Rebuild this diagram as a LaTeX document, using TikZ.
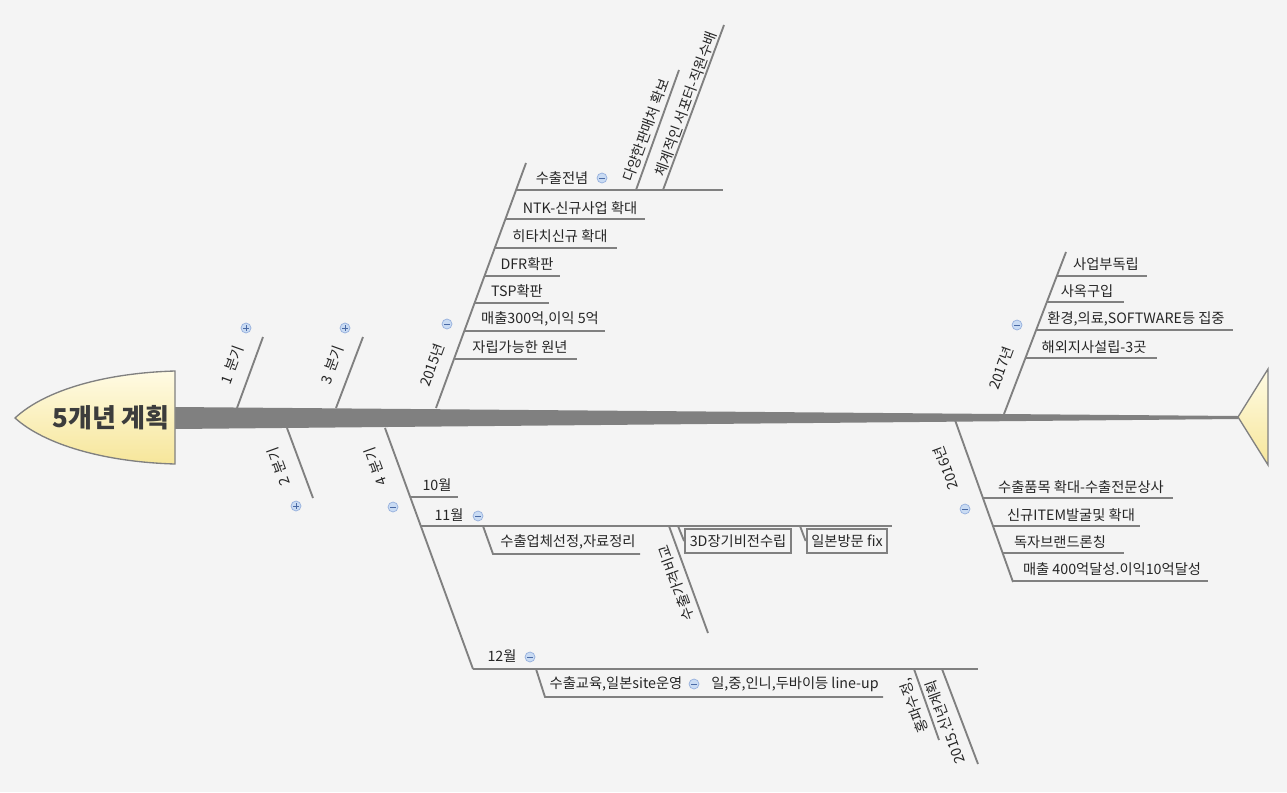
\documentclass[tikz,border=0pt]{standalone}
\usepackage{fontspec}
\setmainfont{Noto Sans CJK KR}

\definecolor{bgcol}{HTML}{F4F4F4}
\definecolor{bonecol}{HTML}{808080}
\definecolor{txtcol}{HTML}{262626}
\definecolor{headtxt}{HTML}{3C3C3C}
\definecolor{headtop}{HTML}{FFFBE4}
\definecolor{headbot}{HTML}{F6E69A}
\definecolor{btnfill}{HTML}{C9DBF3}
\definecolor{btnedge}{HTML}{93AEDC}
\definecolor{btnsign}{HTML}{4A6AA5}

\tikzset{
  bone/.style={draw=bonecol, line width=1.4pt},
  lbl/.style={font=\fontsize{10.7}{12}\selectfont, text=txtcol, inner sep=1pt},
  uplbl/.style={lbl, rotate=70},
  dnlbl/.style={lbl, rotate=110},
  boxed/.style={lbl, draw=bonecol, line width=1.5pt, minimum height=18pt, inner xsep=3.5pt},
  btn/.style={circle, draw=btnedge, fill=btnfill, line width=0.5pt, minimum size=7.5pt, inner sep=0pt},
  plusbtn/.style={btn, path picture={
    \draw[btnsign, line width=0.6pt]
      ([xshift=-2pt]path picture bounding box.center) -- ([xshift=2pt]path picture bounding box.center)
      ([yshift=-2pt]path picture bounding box.center) -- ([yshift=2pt]path picture bounding box.center);}},
  minusbtn/.style={btn, path picture={
    \draw[btnsign, line width=0.6pt]
      ([xshift=-2pt]path picture bounding box.center) -- ([xshift=2pt]path picture bounding box.center);}},
  fishend/.style={draw=bonecol, line width=1pt, top color=headtop, bottom color=headbot}
}

\begin{document}
\begin{tikzpicture}[x=0.75pt, y=-0.75pt]

% background and frame
\fill[bgcol] (0,0) rectangle (1287,792);
\useasboundingbox (0,0) rectangle (1287,792);

% spine, head and tail
\fill[bonecol] (175,407) -- (1238,416) -- (1238,419) -- (175,429) -- cycle;
\path[fishend] (175,371) .. controls (105,373) and (45,390) .. (15,418)
  .. controls (45,445) and (105,462) .. (175,464) -- cycle;
\node[font=\fontsize{19.5}{22}\selectfont\bfseries, text=headtxt] (title) at (111,418) {5개년 계획};
\path[fishend] (1238,417) -- (1268,369) -- (1268,465) -- cycle;

% 1 분기
\coordinate (q1s) at (237,408);
\coordinate (q1e) at (263,337);
\draw[bone] (q1s) -- (q1e);
\node[uplbl] (q1) at (232,365) {1 \,분기};
\node[plusbtn] (q1b) at (246,328) {};

% 3 분기
\coordinate (q3s) at (336,408);
\coordinate (q3e) at (363,337);
\draw[bone] (q3s) -- (q3e);
\node[uplbl] (q3) at (332,365) {3 \,분기};
\node[plusbtn] (q3b) at (345,328) {};

% 2 분기
\coordinate (q2s) at (287,428);
\coordinate (q2e) at (313,498);
\draw[bone] (q2s) -- (q2e);
\node[dnlbl] (q2) at (279,467) {2 \,분기};
\node[plusbtn] (q2b) at (296,506) {};

% 2015년
\coordinate (y15s) at (436,408);
\coordinate (y15e) at (526,163);
\draw[bone] (y15s) -- (y15e);
\node[uplbl] (y15) at (432,365) {2015년};
\node[minusbtn] (y15b) at (447,324) {};

\coordinate (exa) at (517,190);
\coordinate (exb) at (723,190);
\draw[bone] (exa) -- (exb);
\node[lbl] (ex) at (562,178) {수출전념};
\node[minusbtn] (exbtn) at (602,178) {};

\coordinate (ex1s) at (636,190);
\coordinate (ex1e) at (679,70);
\draw[bone] (ex1s) -- (ex1e);
\node[uplbl] (ex1) at (646,130) {다양한판매처 확보};
\coordinate (ex2s) at (663,190);
\coordinate (ex2e) at (724,25);
\draw[bone] (ex2s) -- (ex2e);
\node[uplbl] (ex2) at (686,104) {체계적인 서포터-직원수배};

\coordinate (ntka) at (505.5,219);
\coordinate (ntkb) at (645,219);
\draw[bone] (ntka) -- (ntkb);
\node[lbl] (ntk) at (580,208) {NTK-신규사업 확대};

\coordinate (hita) at (495,248);
\coordinate (hitb) at (617,248);
\draw[bone] (hita) -- (hitb);
\node[lbl] (hit) at (560,236) {히타치신규 확대};

\coordinate (dfra) at (485,276);
\coordinate (dfrb) at (560,276);
\draw[bone] (dfra) -- (dfrb);
\node[lbl] (dfr) at (527,264) {DFR확판};

\coordinate (tspa) at (475,303);
\coordinate (tspb) at (549,303);
\draw[bone] (tspa) -- (tspb);
\node[lbl] (tsp) at (517,291) {TSP확판};

\coordinate (s300a) at (465,331);
\coordinate (s300b) at (605,331);
\draw[bone] (s300a) -- (s300b);
\node[lbl] (s300) at (540,319) {매출300억,이익 5억};

\coordinate (inda) at (454.5,359);
\coordinate (indb) at (577,359);
\draw[bone] (inda) -- (indb);
\node[lbl] (ind) at (520,347) {자립가능한 원년};

% 4 분기
\coordinate (q4s) at (385,428);
\coordinate (q4e) at (473,669);
\draw[bone] (q4s) -- (q4e);
\node[dnlbl] (q4) at (376,467) {4 \,분기};
\node[minusbtn] (q4b) at (393,507) {};

\coordinate (m10a) at (410,497);
\coordinate (m10b) at (458,497);
\draw[bone] (m10a) -- (m10b);
\node[lbl] (m10) at (437,485) {10월};

\coordinate (m11a) at (420.5,526);
\coordinate (m11b) at (892,526);
\draw[bone] (m11a) -- (m11b);
\node[lbl] (m11) at (449,515) {11월};
\node[minusbtn] (m11btn) at (478,516) {};

\coordinate (selk) at (483,526);
\coordinate (sela) at (493,554);
\coordinate (selb) at (640,554);
\draw[bone] (selk) -- (sela) -- (selb);
\node[lbl] (sel) at (568,542) {수출업체선정,자료정리};

\coordinate (cmps) at (669,526);
\coordinate (cmpe) at (708,633);
\draw[bone] (cmps) -- (cmpe);
\node[dnlbl] (cmp) at (676,583) {수출가격비교};

\node[boxed] (m3d) at (738,541) {3D장기비전수립};
\node[boxed] (mjp) at (847,541) {일본방문 fix};
\coordinate (m3dk) at (678,526);
\coordinate (mjpk) at (800,526);
\draw[bone] (m3dk) -- (m3d.west);
\draw[bone] (mjpk) -- (mjp.west);

\coordinate (m12b) at (978,669);
\draw[bone] (q4e) -- (m12b);
\node[lbl] (m12) at (502,656) {12월};
\node[minusbtn] (m12btn) at (530,657) {};

\coordinate (edk) at (536,669);
\coordinate (eda) at (545,697);
\coordinate (edb) at (883,697);
\draw[bone] (edk) -- (eda) -- (edb);
\node[lbl] (ed) at (616,684) {수출교육,일본site운영};
\node[minusbtn] (edbtn) at (694,684) {};
\node[lbl] (lineup) at (795,684) {일,중,인니,두바이등 line-up};

\coordinate (hps) at (914,669);
\coordinate (hpe) at (939,740);
\draw[bone] (hps) -- (hpe);
\node[dnlbl] (hp) at (914,706) {홍파수정,};

\coordinate (nys) at (942,669);
\coordinate (nye) at (978,764);
\draw[bone] (nys) -- (nye);
\node[dnlbl] (ny) at (945,722) {2015.신년계획};

% 2016년
\coordinate (y16s) at (955,420);
\coordinate (y16e) at (1013,582);
\draw[bone] (y16s) -- (y16e);
\node[dnlbl] (y16) at (946,468) {2016년};
\node[minusbtn] (y16b) at (965,509) {};

\coordinate (expa) at (983,498);
\coordinate (expb) at (1173,498);
\draw[bone] (expa) -- (expb);
\node[lbl] (exp) at (1081,487) {수출품목 확대-수출전문상사};

\coordinate (itma) at (992.5,526);
\coordinate (itmb) at (1140,526);
\draw[bone] (itma) -- (itmb);
\node[lbl] (itm) at (1071,515) {신규ITEM발굴및 확대};

\coordinate (brda) at (1002,553);
\coordinate (brdb) at (1124,553);
\draw[bone] (brda) -- (brdb);
\node[lbl] (brd) at (1060,542) {독자브랜드론칭};

\coordinate (s400a) at (1012,581);
\coordinate (s400b) at (1208,581);
\draw[bone] (s400a) -- (s400b);
\node[lbl] (s400) at (1112,569) {매출 400억달성.이익10억달성};

% 2017년
\coordinate (y17s) at (1004,414);
\coordinate (y17e) at (1066,252);
\draw[bone] (y17s) -- (y17e);
\node[uplbl] (y17) at (1001,368) {2017년};
\node[minusbtn] (y17b) at (1017,325) {};

\coordinate (diva) at (1057,276);
\coordinate (divb) at (1147,276);
\draw[bone] (diva) -- (divb);
\node[lbl] (div) at (1106,264) {사업부독립};

\coordinate (offa) at (1047,302);
\coordinate (offb) at (1124,302);
\draw[bone] (offa) -- (offb);
\node[lbl] (off) at (1087,291) {사옥구입};

\coordinate (fcsa) at (1036,330);
\coordinate (fcsb) at (1233,330);
\draw[bone] (fcsa) -- (fcsb);
\node[lbl] (fcs) at (1136,319) {환경,의료,SOFTWARE등 집중};

\coordinate (brna) at (1025.5,358);
\coordinate (brnb) at (1157,358);
\draw[bone] (brna) -- (brnb);
\node[lbl] (brn) at (1094,347) {해외지사설립-3곳};

\end{tikzpicture}
\end{document}
